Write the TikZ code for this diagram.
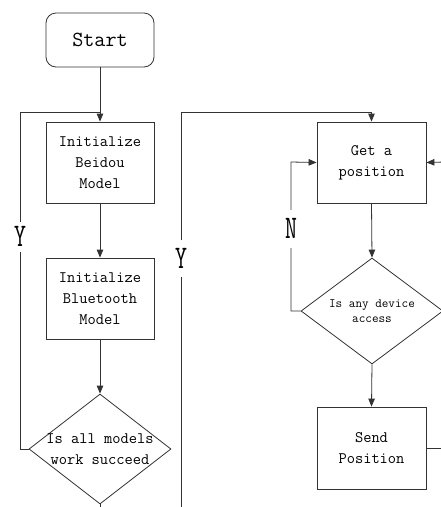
\documentclass[tikz,border=0pt]{standalone}
\usetikzlibrary{shapes.geometric,arrows.meta}
\definecolor{linec}{HTML}{333333}
\begin{document}
\begin{tikzpicture}[x=1pt,y=-1pt,
  conn/.style={draw=linec, line width=0.8pt},
  arr/.style={conn, -{Triangle[length=8pt,width=6.5pt]}},
  boxn/.style={draw=linec, line width=0.8pt, minimum width=108pt, minimum height=81pt, inner sep=0pt, align=center, font=\fontsize{16}{21}\selectfont\ttfamily},
  decn/.style={diamond, draw=linec, line width=0.8pt, inner sep=0pt},
  yn/.style={fill=white, inner sep=0pt, font=\fontsize{33}{33}\selectfont\ttfamily}
]
\useasboundingbox (0,0) rectangle (441,507);

% left column
\node[boxn, rounded corners=10pt, minimum height=54pt, font=\fontsize{21.5}{24}\selectfont\ttfamily] (start) at (100,40) {Start};
\node[boxn] (b1) at (100,162.5) {Initialize\\Beidou\\Model};
\node[boxn] (b2) at (100,298.5) {Initialize\\Bluetooth\\Model};
\node[decn, minimum width=142pt, minimum height=110pt] (d1) at (100,449) {};
\node[align=center, inner sep=0pt, font=\fontsize{16}{21.5}\selectfont\ttfamily] (d1t) at (d1.center) {Is all models\\work succeed};

% right column
\node[boxn, minimum width=109pt] (g) at (371.5,162.5) {Get a\\position};
\node[decn, minimum width=142pt, minimum height=106pt] (d2) at (372,311) {};
\node[align=center, inner sep=0pt, font=\fontsize{12.8}{15.3}\selectfont\ttfamily] (d2t) at (d2.center) {Is any device\\access};
\node[boxn, minimum width=109pt, minimum height=82pt] (s) at (371.5,448) {Send\\Position};

% coordinates
\coordinate (ltop) at (20,112);
\coordinate (lbot) at (20,449);
\coordinate (jn) at (100,112);
\coordinate (mbot) at (181,512);
\coordinate (mtop) at (181,112);
\coordinate (nbot) at (291,311);
\coordinate (ntop) at (291,162);
\coordinate (rs) at (445,448);
\coordinate (rg) at (445,162);
\coordinate (dend) at (100,512);

% connectors
\draw[arr] (start.south) -- (b1.north);
\draw[arr] (b1.south) -- (b2.north);
\draw[arr] (b2.south) -- (d1.north);
\draw[conn] (d1.south) -- (dend);
\draw[conn] (d1.west) -- (lbot) -- node[yn, pos=0.63, minimum height=30pt] (ly) {\scalebox{0.7}[1]{Y}} (ltop) -- (jn);
\draw[arr] (mbot) -- node[yn, pos=0.635, minimum height=37pt] (my) {\scalebox{0.7}[1]{Y}} (mtop) -| (g.north);
\draw[arr] (g.south) -- (d2.north);
\draw[arr] (d2.west) -- (nbot) -- node[yn, pos=0.552, minimum height=38pt] (nl) {\scalebox{0.7}[1]{N}} (ntop) -- (g.west);
\draw[arr] (d2.south) -- (s.north);
\draw[conn] (s.east) -- (rs);
\draw[arr] (rg) -- (g.east);
\end{tikzpicture}
\end{document}
